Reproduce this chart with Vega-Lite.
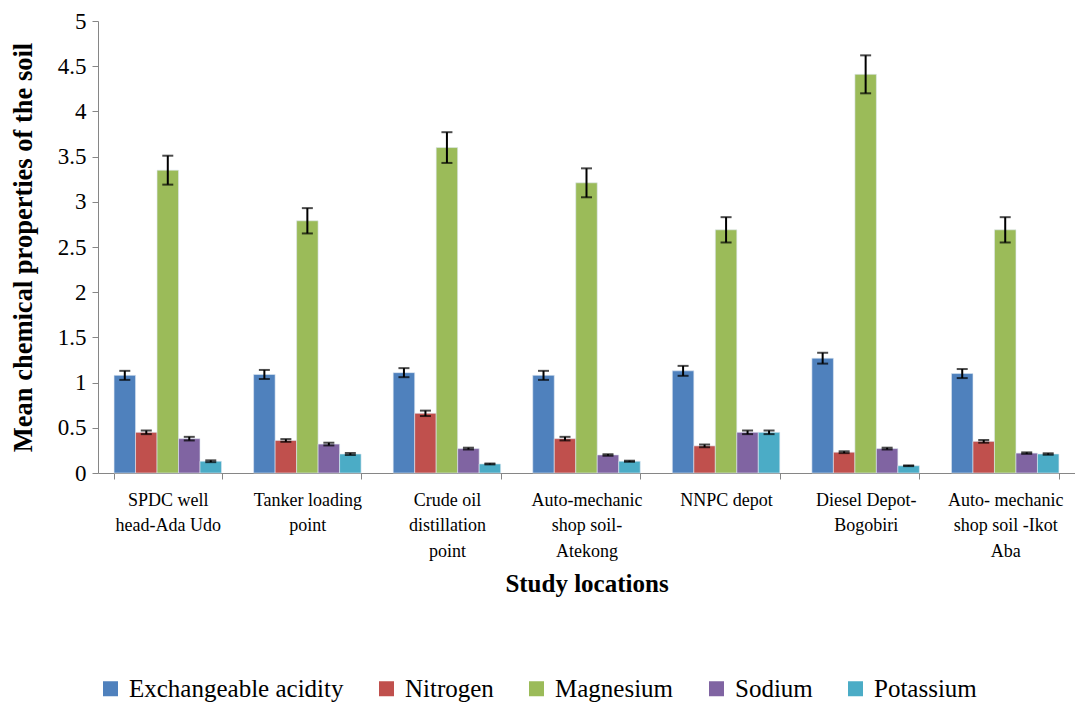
{
  "$schema": "https://vega.github.io/schema/vega-lite/v6.json",
  "width": 977,
  "height": 452,
  "autosize": {"type": "none"},
  "padding": {"left": 98, "top": 21, "right": 0, "bottom": 231},
  "background": "white",
  "config": {
    "font": "Liberation Serif",
    "view": {"stroke": null},
    "axis": {"domainColor": "#868686", "tickColor": "#868686", "labelColor": "#000", "titleColor": "#000", "grid": false, "labelFont": "Liberation Serif", "titleFont": "Liberation Serif"},
    "legend": {"labelFont": "Liberation Serif", "titleFont": "Liberation Serif", "labelFontSize": 25, "labelColor": "#000"}
  },
  "data": {
    "values": [
      {"loc": "SPDC well|head-Ada Udo", "prop": "Exchangeable acidity", "mean": 1.08, "err": 0.05},
      {"loc": "SPDC well|head-Ada Udo", "prop": "Nitrogen", "mean": 0.45, "err": 0.02},
      {"loc": "SPDC well|head-Ada Udo", "prop": "Magnesium", "mean": 3.35, "err": 0.16},
      {"loc": "SPDC well|head-Ada Udo", "prop": "Sodium", "mean": 0.38, "err": 0.02},
      {"loc": "SPDC well|head-Ada Udo", "prop": "Potassium", "mean": 0.13, "err": 0.01},
      {"loc": "Tanker loading|point", "prop": "Exchangeable acidity", "mean": 1.09, "err": 0.05},
      {"loc": "Tanker loading|point", "prop": "Nitrogen", "mean": 0.36, "err": 0.015},
      {"loc": "Tanker loading|point", "prop": "Magnesium", "mean": 2.79, "err": 0.14},
      {"loc": "Tanker loading|point", "prop": "Sodium", "mean": 0.32, "err": 0.015},
      {"loc": "Tanker loading|point", "prop": "Potassium", "mean": 0.21, "err": 0.01},
      {"loc": "Crude oil|distillation|point", "prop": "Exchangeable acidity", "mean": 1.11, "err": 0.05},
      {"loc": "Crude oil|distillation|point", "prop": "Nitrogen", "mean": 0.66, "err": 0.03},
      {"loc": "Crude oil|distillation|point", "prop": "Magnesium", "mean": 3.6, "err": 0.17},
      {"loc": "Crude oil|distillation|point", "prop": "Sodium", "mean": 0.27, "err": 0.01},
      {"loc": "Crude oil|distillation|point", "prop": "Potassium", "mean": 0.1, "err": 0.005},
      {"loc": "Auto-mechanic|shop soil-|Atekong", "prop": "Exchangeable acidity", "mean": 1.08, "err": 0.05},
      {"loc": "Auto-mechanic|shop soil-|Atekong", "prop": "Nitrogen", "mean": 0.38, "err": 0.02},
      {"loc": "Auto-mechanic|shop soil-|Atekong", "prop": "Magnesium", "mean": 3.21, "err": 0.16},
      {"loc": "Auto-mechanic|shop soil-|Atekong", "prop": "Sodium", "mean": 0.2, "err": 0.008},
      {"loc": "Auto-mechanic|shop soil-|Atekong", "prop": "Potassium", "mean": 0.13, "err": 0.006},
      {"loc": "NNPC depot", "prop": "Exchangeable acidity", "mean": 1.13, "err": 0.055},
      {"loc": "NNPC depot", "prop": "Nitrogen", "mean": 0.3, "err": 0.015},
      {"loc": "NNPC depot", "prop": "Magnesium", "mean": 2.69, "err": 0.14},
      {"loc": "NNPC depot", "prop": "Sodium", "mean": 0.45, "err": 0.02},
      {"loc": "NNPC depot", "prop": "Potassium", "mean": 0.45, "err": 0.02},
      {"loc": "Diesel Depot-|Bogobiri", "prop": "Exchangeable acidity", "mean": 1.27, "err": 0.06},
      {"loc": "Diesel Depot-|Bogobiri", "prop": "Nitrogen", "mean": 0.23, "err": 0.01},
      {"loc": "Diesel Depot-|Bogobiri", "prop": "Magnesium", "mean": 4.41, "err": 0.21},
      {"loc": "Diesel Depot-|Bogobiri", "prop": "Sodium", "mean": 0.27, "err": 0.01},
      {"loc": "Diesel Depot-|Bogobiri", "prop": "Potassium", "mean": 0.08, "err": 0.004},
      {"loc": "Auto- mechanic|shop soil -Ikot|Aba", "prop": "Exchangeable acidity", "mean": 1.1, "err": 0.05},
      {"loc": "Auto- mechanic|shop soil -Ikot|Aba", "prop": "Nitrogen", "mean": 0.35, "err": 0.015},
      {"loc": "Auto- mechanic|shop soil -Ikot|Aba", "prop": "Magnesium", "mean": 2.69, "err": 0.14},
      {"loc": "Auto- mechanic|shop soil -Ikot|Aba", "prop": "Sodium", "mean": 0.22, "err": 0.008},
      {"loc": "Auto- mechanic|shop soil -Ikot|Aba", "prop": "Potassium", "mean": 0.21, "err": 0.008}
    ]
  },
  "transform": [
    {"calculate": "datum.mean - datum.err", "as": "lo"},
    {"calculate": "datum.mean + datum.err", "as": "hi"}
  ],
  "encoding": {
    "x": {
      "field": "loc", "type": "nominal", "sort": null,
      "scale": {"paddingInner": 0.23, "paddingOuter": 0.115},
      "axis": {
        "title": "Study locations", "titleFontSize": 25, "titleFontWeight": "bold", "titlePadding": 11,
        "labelAngle": 0, "labelFontSize": 18, "labelLineHeight": 25.5, "labelPadding": 12,
        "labelExpr": "split(datum.label, '|')", "tickBand": "extent", "tickSize": 6, "labelLimit": 200
      }
    },
    "xOffset": {
      "field": "prop", "type": "nominal",
      "sort": ["Exchangeable acidity", "Nitrogen", "Magnesium", "Sodium", "Potassium"],
      "scale": {"paddingInner": 0}
    }
  },
  "layer": [
    {
      "mark": {"type": "bar", "stroke": "#dfe8f2", "strokeWidth": 0.6},
      "encoding": {
        "y": {
          "field": "mean", "type": "quantitative",
          "scale": {"domain": [0, 5], "nice": false},
          "axis": {
            "title": "Mean chemical properties of the soil", "titleFontSize": 26.5, "titleFontWeight": "bold", "titlePadding": 20,
            "values": [0, 0.5, 1, 1.5, 2, 2.5, 3, 3.5, 4, 4.5, 5], "format": "~g", "labelFontSize": 23, "tickSize": 6, "labelPadding": 6
          }
        },
        "color": {
          "field": "prop", "type": "nominal",
          "sort": ["Exchangeable acidity", "Nitrogen", "Magnesium", "Sodium", "Potassium"],
          "scale": {"domain": ["Exchangeable acidity", "Nitrogen", "Magnesium", "Sodium", "Potassium"], "range": ["#4F81BD", "#C0504D", "#9BBB59", "#8064A2", "#4BACC6"]},
          "legend": {
            "title": null, "orient": "bottom", "direction": "horizontal", "offset": 80,
            "symbolType": "square", "symbolSize": 225, "symbolStrokeWidth": 0,
            "labelFontSize": 25, "labelFont": "Liberation Serif", "labelColor": "#000", "columnPadding": 30, "labelOffset": 6, "labelLimit": 400
          }
        }
      }
    },
    {
      "mark": {"type": "rule", "color": "#000", "strokeWidth": 2},
      "encoding": {
        "y": {"field": "lo", "type": "quantitative"},
        "y2": {"field": "hi"}
      }
    },
    {
      "mark": {"type": "tick", "color": "#000", "size": 11, "thickness": 2},
      "encoding": {"y": {"field": "lo", "type": "quantitative"}}
    },
    {
      "mark": {"type": "tick", "color": "#000", "size": 11, "thickness": 2},
      "encoding": {"y": {"field": "hi", "type": "quantitative"}}
    }
  ]
}
